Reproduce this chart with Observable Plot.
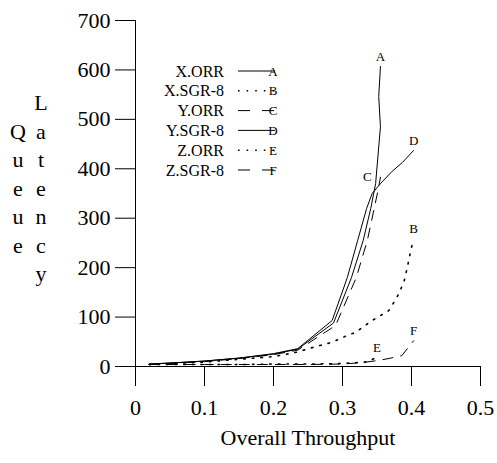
<!DOCTYPE html>
<html><head><meta charset="utf-8">
<script src="https://cdn.jsdelivr.net/npm/d3@7"></script>
<script src="https://cdn.jsdelivr.net/npm/@observablehq/plot@0.6"></script>
<style>
body{margin:0;background:#fff}
#chart{position:relative;width:497px;height:463px}
</style>
</head><body><div id="chart"></div>
<script>
// ---- data ----
const seriesNames = ["X.ORR","X.SGR-8","Y.ORR","Y.SGR-8","Z.ORR","Z.SGR-8"];
const seriesLetters = ["A","B","C","D","E","F"];

const throughputA = [0.02,0.05,0.1,0.15,0.2,0.235,0.287,0.313,0.33,0.341,0.348,0.355,0.3525,0.355];
const latencyA    = [5,7,11,17,25,35,88,180,255,320,370,485,546,607];

const throughputB = [0.02,0.1,0.2,0.234,0.258,0.285,0.307,0.319,0.333,0.343,0.355,0.367,0.379,0.389,0.394,0.399,0.403];
const latencyB    = [4,9,20,29,39,49,63,69,83,93,103,113,140,171,201,235,258];

const throughputC = [0.02,0.05,0.1,0.15,0.2,0.235,0.29,0.32,0.336,0.346,0.352,0.355];
const latencyC    = [4,6,10,16,24,33,83,180,255,320,360,383];

const throughputD = [0.02,0.05,0.1,0.15,0.2,0.235,0.285,0.307,0.322,0.335,0.343,0.355,0.372,0.387,0.403];
const latencyD    = [5,7,11,17,26,36,93,180,255,320,350,370,395,413,437];

const throughputE = [0.02,0.05,0.1,0.15,0.2,0.25,0.3,0.333,0.35];
const latencyE    = [4,4,4,4,5,5,6,9,18];

const throughputF = [0.02,0.1,0.2,0.25,0.3,0.33,0.355,0.37,0.386,0.403];
const latencyF    = [4,4,4,4,5,8,13,17,22,52];

const xTicks = [0,0.1,0.2,0.3,0.4,0.5];
const xTickLabels = ["0","0.1","0.2","0.3","0.4","0.5"];
const yTicks = [0,100,200,300,400,500,600,700];
const yTickLabels = ["0","100","200","300","400","500","600","700"];
const xAxisTitle = "Overall Throughput";
const yAxisTitleWords = ["Queue","Latency"];

// ---- styles ----
const SERIF = "'Liberation Serif','Times New Roman',serif";
const FS = 22;
const DOTTED = "1.6,7";
const DASHED = "10,8";
const dashFor = {"A":null,"B":DOTTED,"C":DASHED,"D":null,"E":DOTTED,"F":DASHED};
const widthFor = {"A":1,"B":1.6,"C":1,"D":1,"E":1.6,"F":1};

const xs = [throughputA,throughputB,throughputC,throughputD,throughputE,throughputF];
const ys = [latencyA,latencyB,latencyC,latencyD,latencyE,latencyF];
const rows = [];
seriesLetters.forEach((L,i)=>{
  xs[i].forEach((x,j)=>rows.push({series:seriesNames[i], letter:L, x, y:ys[i][j]}));
});

const lineMarks = seriesLetters.map(L => Plot.line(rows.filter(r=>r.letter===L), {
  x:"x", y:"y", stroke:"black", strokeWidth:widthFor[L],
  strokeDasharray: dashFor[L] || undefined, curve:"linear"
}));

const plot = Plot.plot({
  width:497, height:463,
  marginLeft:135, marginRight:17, marginTop:20, marginBottom:97,
  style:{fontFamily:SERIF, fontSize:FS+"px", background:"white", color:"black"},
  x:{domain:[0,0.5]},
  y:{domain:[0,700]},
  marks:[
    Plot.ruleX([0],{stroke:"black"}),
    Plot.ruleY([0],{stroke:"black"}),
    Plot.axisX({ticks:xTicks, tickSize:20, tickPadding:13, tickFormat:d=>xTickLabels[xTicks.indexOf(d)], label:null, fontSize:FS}),
    Plot.axisY({ticks:yTicks, tickSize:20, tickPadding:5, tickFormat:d=>yTickLabels[yTicks.indexOf(d)], label:null, fontSize:FS}),
    ...lineMarks,
    Plot.text(rows.filter(r=>r.letter!=="C"), Plot.selectLast({x:"x", y:"y", z:"letter", text:"letter", dy:-10, fontSize:13})),
    Plot.text(rows.filter(r=>r.letter==="C"), Plot.selectLast({x:"x", y:"y", z:"letter", text:"letter", dx:-13, dy:0, fontSize:13})),
    Plot.text([xAxisTitle], {frameAnchor:"bottom", dy:78, fontSize:FS})
  ]
});
document.getElementById("chart").appendChild(plot);

// legend + stacked y title
const svg = d3.select(plot);
const lg = svg.append("g").attr("font-family",SERIF);
seriesNames.forEach((name,i)=>{
  const cy = 71 + 19.8*i;
  const L = seriesLetters[i];
  lg.append("text").attr("x",224).attr("y",cy+5.5).attr("text-anchor","end").attr("font-size",16).attr("fill","black").text(name);
  lg.append("line").attr("x1",238).attr("x2",275).attr("y1",cy).attr("y2",cy)
    .attr("stroke","black").attr("stroke-width",widthFor[L])
    .attr("stroke-dasharray", dashFor[L]===DASHED ? "12,12" : (dashFor[L]||null));
  lg.append("text").attr("x",273).attr("y",cy+4.5).attr("text-anchor","middle").attr("font-size",13).attr("fill","black").text(L);
});
const yt = svg.append("g").attr("font-family",SERIF).attr("font-size",FS).attr("text-anchor","middle").attr("fill","black");
Array.from(yAxisTitleWords[1]).forEach((ch,i)=>yt.append("text").attr("x",41).attr("y",110+28.5*i).text(ch));
Array.from(yAxisTitleWords[0]).forEach((ch,i)=>yt.append("text").attr("x",18).attr("y",138.5+28.5*i).text(ch));
</script>
</body></html>
